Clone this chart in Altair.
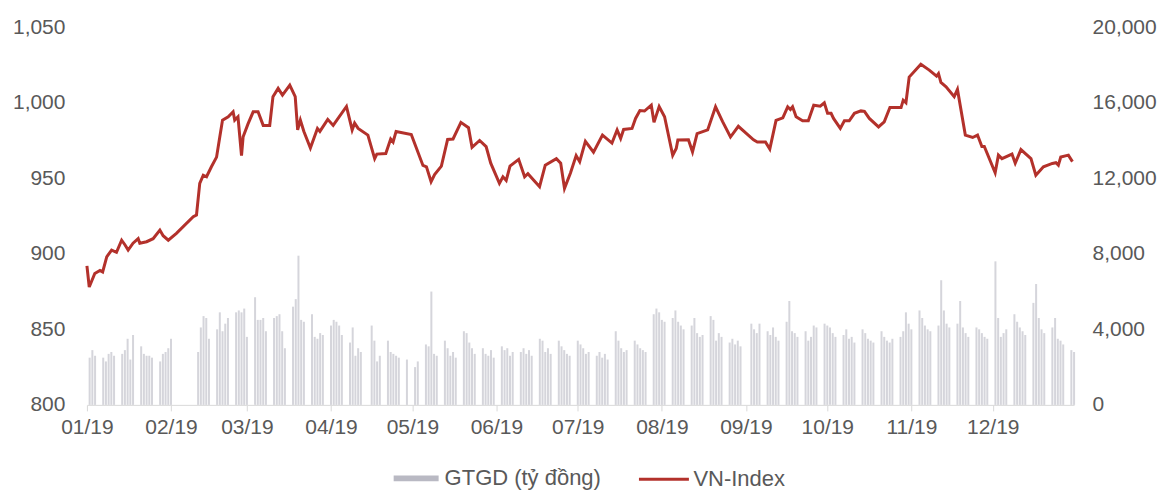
import altair as alt
import pandas as pd

# ---------------- data ----------------
# VN-Index trace: day offset from 2019-01-01 and index level
vn_day = [0, 0.85, 2.9, 4.8, 5.8, 7.3, 9.1, 10.9, 12.8, 14,
          15.2, 17, 18.9, 19.5, 22, 24.4, 26.9, 28.1, 30, 33,
          39.2, 40.4, 41.6, 42.9, 44.1, 45.9, 47.8, 49, 50, 52.1,
          53.9, 54.5, 55.7, 57, 57.6, 59.4, 61.3, 63.1, 65, 67.4,
          68.6, 70.5, 72.1, 74.8, 76.8, 77.7, 78.7, 80, 82.4, 85,
          85.9, 88.8, 90.8, 95.7, 97.8, 98.7, 100, 103.6, 106.1, 106.9,
          110.2, 112, 112.9, 114, 119.6, 123.9, 125.2, 126.9, 128.2, 130.7,
          133, 135, 137.9, 140.7, 142, 144.8, 147.2, 148.9, 152.1, 153.4,
          154.6, 156, 159.2, 161.4, 162.6, 166.9, 169, 173.1, 174.7, 176.1,
          178.3, 180.4, 181.7, 183.8, 186.8, 190.1, 193.6, 195.5, 196.8, 197.9,
          201, 202.3, 203.9, 205.6, 208.1, 209.1, 211, 213, 216, 217.3,
          217.9, 221.8, 223.3, 225, 228.9, 231.8, 234.4, 237.3, 240.2, 245.8,
          247.2, 250.2, 251.8, 254.1, 256.6, 258.4, 259.4, 260.2, 261.5, 263.9,
          266, 268, 270.4, 271.9, 273.1, 274.4, 275.3, 277.8, 279.3, 281.1,
          283, 285.4, 286.7, 288.5, 291.9, 294, 296.1, 300.2, 301, 302,
          303.2, 307.5, 310.6, 313.3, 314, 314.9, 316.8, 319.8, 321, 323.9,
          326.6, 328.4, 330, 330.9, 334.9, 336.1, 337.4, 341.1, 342.3, 344.4,
          348.1, 349.9, 352.7, 356, 357.3, 358.2, 359.1, 361.9, 363.4]
vn_value = [892, 878, 887, 889, 888, 898, 902.5, 901, 909, 906,
            902.5, 907, 910, 907, 908, 910, 915.7, 912, 909, 913.5,
            924.5, 925.7, 946.6, 952, 951, 957.6, 964, 977.5, 988.5, 990.7,
            994, 988.5, 990.7, 965, 977.5, 986, 994, 994, 985, 985,
            1004, 1009.5, 1005, 1011.6, 1004, 982, 988.5, 981, 970, 983,
            981, 989, 985, 997.5, 982, 986.5, 983, 978.6, 963, 966,
            966.4, 976, 974, 981, 979, 958.5, 957.6, 947.7, 952.5, 958,
            975.7, 976, 987, 983.5, 970.5, 975, 971, 960, 946.6, 951,
            948.6, 958, 962.5, 951, 953, 944.4, 958.7, 963, 960, 943.3,
            953.5, 965, 961, 974.5, 967.3, 978.6, 973.3, 982, 976.4, 982.3,
            983, 989.6, 994.8, 994.5, 998.4, 987, 997.5, 990.7, 965.2, 969.7,
            975.4, 975.5, 967.5, 979.6, 982, 997.3, 987.5, 977.3, 984.4, 975.4,
            974, 974, 969.3, 988.3, 990, 997.3, 995.5, 997.3, 990.7, 988,
            988, 998.4, 997.7, 999.9, 993, 993, 989.6, 983, 988, 988,
            993, 994.6, 994.3, 989.6, 984, 987.4, 996.8, 996.8, 1001.7, 1000,
            1017, 1025.5, 1021.6, 1017.6, 1019.3, 1013.4, 1010.5, 1004, 1008.8, 978.6,
            977, 978.6, 971, 971, 953.6, 965.3, 963, 966, 960, 969,
            963, 952, 957.6, 959.8, 960.3, 958.7, 964, 965.3, 961]

# market holidays (no trading) in 2019
holidays = ["2019-01-01", "2019-02-04", "2019-02-05", "2019-02-06", "2019-02-07",
            "2019-02-08", "2019-04-15", "2019-04-30", "2019-05-01", "2019-09-02"]

# GTGD (ty dong), one value per trading day, week by week
gtgd = [2500, 2900, 2600,                     # Jan 2-4
        2500, 2300, 2700, 2800, 2600,         # Jan 7-11
        2700, 2900, 3500, 2400, 3700,         # Jan 14-18
        3100, 2700, 2600, 2600, 2500,         # Jan 21-25
        2300, 2700, 2800, 3000, 3500,         # Jan 28-Feb 1
        2800, 4100, 4700, 4600, 3500,         # Feb 11-15
        4000, 4900, 3900, 4300, 4600,         # Feb 18-22
        4900, 5000, 4900, 5100, 3600,         # Feb 25-Mar 1
        5700, 4500, 4500, 4600, 3900,         # Mar 4-8
        4600, 4700, 4800, 3900, 3000,         # Mar 11-15
        5200, 5600, 7900, 4500, 4400,         # Mar 18-22
        4800, 3600, 3500, 3800, 3700,         # Mar 25-29
        4200, 4500, 4400, 4200, 3700,         # Apr 1-5
        3300, 4100, 2600, 3000, 2800,         # Apr 8-12
        4200, 3400, 2300, 2600,               # Apr 16-19
        3400, 2800, 2700, 2600, 2500,         # Apr 22-26
        2400,                                 # Apr 29
        2000, 2300,                           # May 2-3
        3200, 3100, 6000, 2700, 2600,         # May 6-10
        3400, 3000, 2600, 2800, 2500,         # May 13-17
        3900, 3800, 3300, 3000, 2700,         # May 20-24
        3000, 2700, 2600, 2900, 2500,         # May 27-31
        3100, 2900, 3000, 2600, 2800,         # Jun 3-7
        2800, 3000, 2700, 2900, 2600,         # Jun 10-14
        3500, 3400, 2800, 3000, 2700,         # Jun 17-21
        3400, 3100, 2900, 2700, 2600,         # Jun 24-28
        3400, 3200, 3000, 2700, 2800,         # Jul 1-5
        2600, 2800, 2500, 2700, 2400,         # Jul 8-12
        3900, 3400, 3000, 2800, 2900,         # Jul 15-19
        3400, 3200, 3000, 2900, 2800,         # Jul 22-26
        4800, 5100, 4900, 4500, 4400,         # Jul 29-Aug 2
        4600, 5000, 4400, 4200, 4000,         # Aug 5-9
        4200, 4600, 3800, 3600, 3700,         # Aug 12-16
        4700, 4500, 3400, 3800, 3600,         # Aug 19-23
        3300, 3500, 3200, 3400, 3100,         # Aug 26-30
        4300, 4000, 3800, 4300,               # Sep 3-6
        3900, 3700, 4100, 3600, 3400,         # Sep 9-13
        4400, 5500, 3900, 3800, 3600,         # Sep 16-20
        3900, 3400, 3600, 4200, 4100,         # Sep 23-27
        4300, 4200, 4100, 3800, 3600,         # Sep 30-Oct 4
        3700, 4000, 3500, 3600, 3300,         # Oct 7-11
        4000, 3800, 3500, 3400, 3300,         # Oct 14-18
        3900, 3600, 3400, 3300, 3500,         # Oct 21-25
        3600, 3900, 4900, 4300, 4000,         # Oct 28-Nov 1
        5000, 4600, 4200, 4000, 3900,         # Nov 4-8
        4200, 6600, 5000, 4300, 4100,         # Nov 11-15
        4300, 5500, 4100, 3800, 3600,         # Nov 18-22
        4100, 4000, 3800, 3600, 3500,         # Nov 25-29
        7600, 4600, 3600, 3800, 4000,         # Dec 2-6
        4800, 4400, 4100, 3900, 3700,         # Dec 9-13
        5400, 6400, 4600, 4000, 3800,         # Dec 16-20
        4100, 4600, 3500, 3400, 3200,         # Dec 23-27
        2900, 2800]                           # Dec 30-31

month_ticks = [alt.DateTime(year=2019, month=m, date=1) for m in range(1, 13)]
left_ticks = [800, 850, 900, 950, 1000, 1050]
right_ticks = [0, 4000, 8000, 12000, 16000, 20000]

SERIES_BAR = "GTGD (tỷ đồng)"
SERIES_LINE = "VN-Index"

# ---------------- frames ----------------
start = pd.Timestamp("2019-01-01")
line_df = pd.DataFrame({
    "date": start + pd.to_timedelta(vn_day, unit="D"),
    "value": vn_value,
    "series": SERIES_LINE,
})
days = pd.bdate_range("2019-01-01", "2019-12-31")
days = days[~days.isin(pd.to_datetime(holidays))]
bar_df = pd.DataFrame({"date": days[:len(gtgd)], "value": gtgd, "series": SERIES_BAR})

FONT = "Liberation Sans"
TXT = "#595959"

x_enc = alt.X(
    "date:T",
    scale=alt.Scale(domain=[alt.DateTime(year=2019, month=1, date=1),
                            alt.DateTime(year=2019, month=12, date=31)],
                    padding=0),
    axis=alt.Axis(values=month_ticks, format="%m/%y", title=None, grid=False,
                  labelFontSize=21, labelColor=TXT, labelFont=FONT,
                  domainColor="#d9d9d9", tickColor="#d9d9d9", tickSize=6,
                  labelPadding=6, labelFlush=False, labelOverlap=False),
)

bars = alt.Chart(bar_df).mark_bar(size=2, fillOpacity=0.6).encode(
    x=x_enc,
    y=alt.Y("value:Q", scale=alt.Scale(domain=[0, 20000]),
            axis=alt.Axis(orient="right", values=right_ticks, format=",.0f", title=None,
                          grid=False, domain=False, ticks=False, labelPadding=18,
                          labelFontSize=21, labelColor=TXT, labelFont=FONT)),
    fill=alt.Fill("series:N",
                  scale=alt.Scale(domain=[SERIES_BAR], range=["#b9b9c3"]),
                  legend=alt.Legend(orient="none", legendX=306, legendY=428, title=None,
                                    symbolType="M-1,-0.13L1,-0.13L1,0.13L-1,0.13Z",
                                    symbolSize=2025, symbolOpacity=1,
                                    labelFontSize=22, labelColor=TXT,
                                    labelFont=FONT, labelOffset=5)),
)

line = alt.Chart(line_df).mark_line(strokeWidth=3).encode(
    x=x_enc,
    y=alt.Y("value:Q", scale=alt.Scale(domain=[800, 1050]),
            axis=alt.Axis(orient="left", values=left_ticks, format=",.0f", title=None,
                          grid=False, domain=False, ticks=False, labelPadding=22,
                          labelFontSize=21, labelColor=TXT, labelFont=FONT)),
    stroke=alt.Stroke("series:N",
                      scale=alt.Scale(domain=[SERIES_LINE], range=["#b3312b"]),
                      legend=alt.Legend(orient="none", legendX=551, legendY=426, title=None,
                                        symbolType="stroke", symbolSize=2500,
                                        symbolStrokeWidth=3, labelFontSize=22,
                                        labelColor=TXT, labelFont=FONT, labelOffset=3)),
)

chart = alt.layer(bars, line).resolve_scale(y="independent").properties(
    width=988, height=378,
    padding={"left": 79, "top": 19, "right": 84, "bottom": 93},
    autosize=alt.AutoSizeParams(type="none"),
).configure_view(stroke=None)

chart.save("out.html", embed_options={"renderer": "svg", "actions": False})
